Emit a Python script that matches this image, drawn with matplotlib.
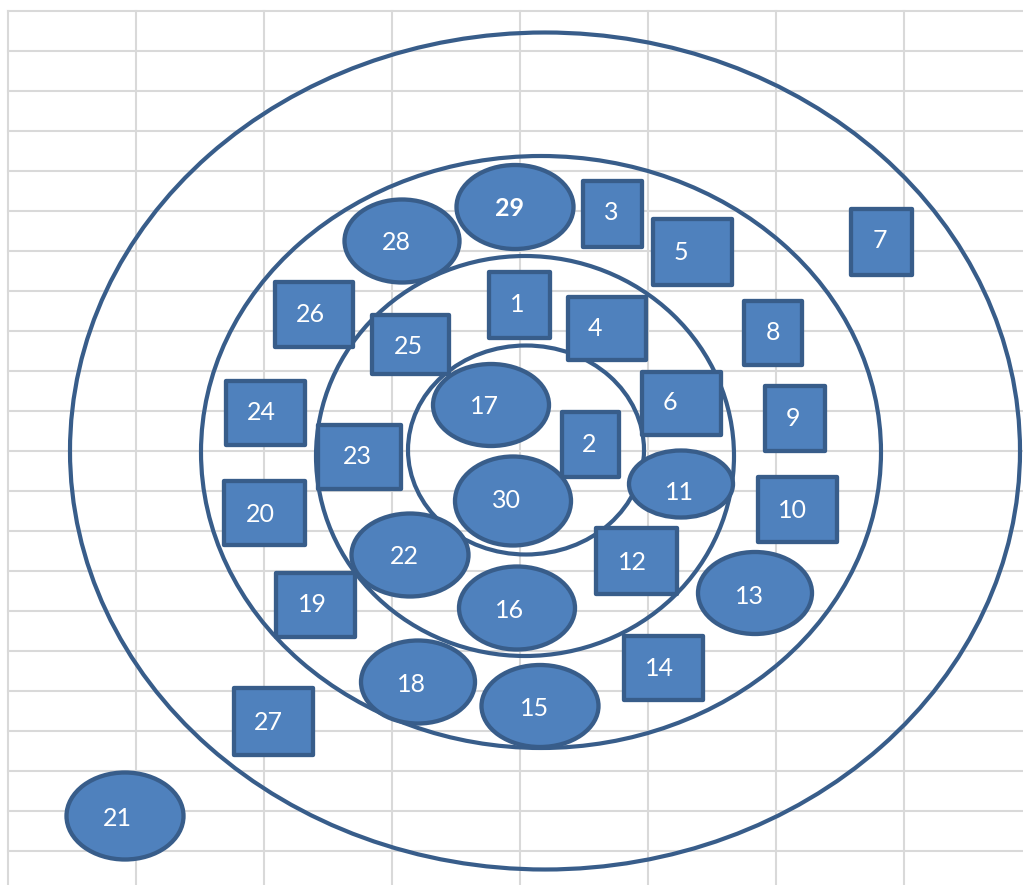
import matplotlib
matplotlib.use("Agg")
from matplotlib import pyplot
from matplotlib.patches import Ellipse, Rectangle

# rings: centre x, centre y, width, height (pixel-like units)
ring_x = [545, 541, 525, 526]
ring_y = [451, 452, 456, 450]
ring_w = [950, 680, 418, 236]
ring_h = [837, 592, 400, 209]

# items: label, shape, centre, size, label position
labels = [29, 3, 5, 1, 4, 7, 21, 28, 26, 25, 8, 6, 9, 17, 24, 23, 2, 11, 30, 10,
          20, 22, 12, 13, 19, 16, 14, 18, 15, 27]
kinds = ['o', 's', 's', 's', 's', 's', 'o', 'o', 's', 's', 's', 's', 's', 'o', 's',
         's', 's', 'o', 'o', 's', 's', 'o', 's', 'o', 's', 'o', 's', 'o', 'o', 's']
cx = [515, 612, 692, 519, 607, 881, 125, 402, 314, 410, 773, 681, 795, 491, 265,
      359, 590, 681, 513, 797, 264, 410, 636, 755, 315, 517, 663, 418, 540, 273]
cy = [207, 214, 252, 305, 328, 242, 816, 241, 314, 344, 333, 403, 418, 405, 413,
      457, 444, 484, 501, 509, 513, 555, 561, 593, 605, 608, 668, 682, 706, 721]
w = [117, 59, 79, 61, 78, 61, 117, 115, 78, 77, 58, 79, 60, 116, 79,
     83, 57, 104, 116, 79, 81, 117, 81, 114, 79, 116, 79, 114, 117, 79]
h = [84, 66, 66, 66, 63, 66, 87, 83, 65, 59, 64, 63, 65, 82, 64,
     64, 65, 67, 89, 65, 64, 83, 66, 82, 64, 83, 64, 83, 82, 67]
tx = [509, 611, 681, 517, 595, 880, 117, 396, 310, 408, 773, 670, 793, 484, 261,
      357, 589, 679, 506, 792, 260, 404, 632, 749, 312, 510, 659, 411, 535, 268]
ty = [207, 210, 250, 303, 326, 238, 816, 241, 312, 345, 331, 400, 416, 405, 411,
      454, 443, 491, 499, 508, 512, 555, 560, 594, 603, 608, 667, 682, 706, 720]

fill = '#4F81BD'
edge = '#385D8A'
grid_c = '#D9D9D9'

fig = pyplot.figure(figsize=(10.23, 8.85), dpi=100)
ax = fig.add_axes([0, 0, 1, 1])
ax.set_xlim(0, 1023)
ax.set_ylim(885, 0)
ax.axis('off')

# spreadsheet grid
for gx in range(8, 1023, 128):
    ax.plot([gx, gx], [11, 885], color=grid_c, lw=1.5, zorder=0)
for gy in range(11, 885, 40):
    ax.plot([8, 1023], [gy, gy], color=grid_c, lw=1.5, zorder=0)

for i in range(len(ring_x)):
    ax.add_patch(Ellipse((ring_x[i], ring_y[i]), ring_w[i], ring_h[i],
                         fill=False, ec=edge, lw=3.0, zorder=1))

for i in range(len(labels)):
    if kinds[i] == 'o':
        p = Ellipse((cx[i], cy[i]), w[i], h[i], fc=fill, ec=edge, lw=3.1, zorder=2)
    else:
        p = Rectangle((cx[i] - w[i] / 2, cy[i] - h[i] / 2), w[i], h[i],
                      fc=fill, ec=edge, lw=3.1, joinstyle='round', zorder=2)
    ax.add_patch(p)
    ax.text(tx[i], ty[i] + 2, str(labels[i]), color='white', fontsize=18,
            family=['Lato', 'DejaVu Sans'],
            fontweight='bold' if labels[i] == 29 else 'normal',
            ha='center', va='center', zorder=3)

pyplot.savefig("out.png", dpi=100)
